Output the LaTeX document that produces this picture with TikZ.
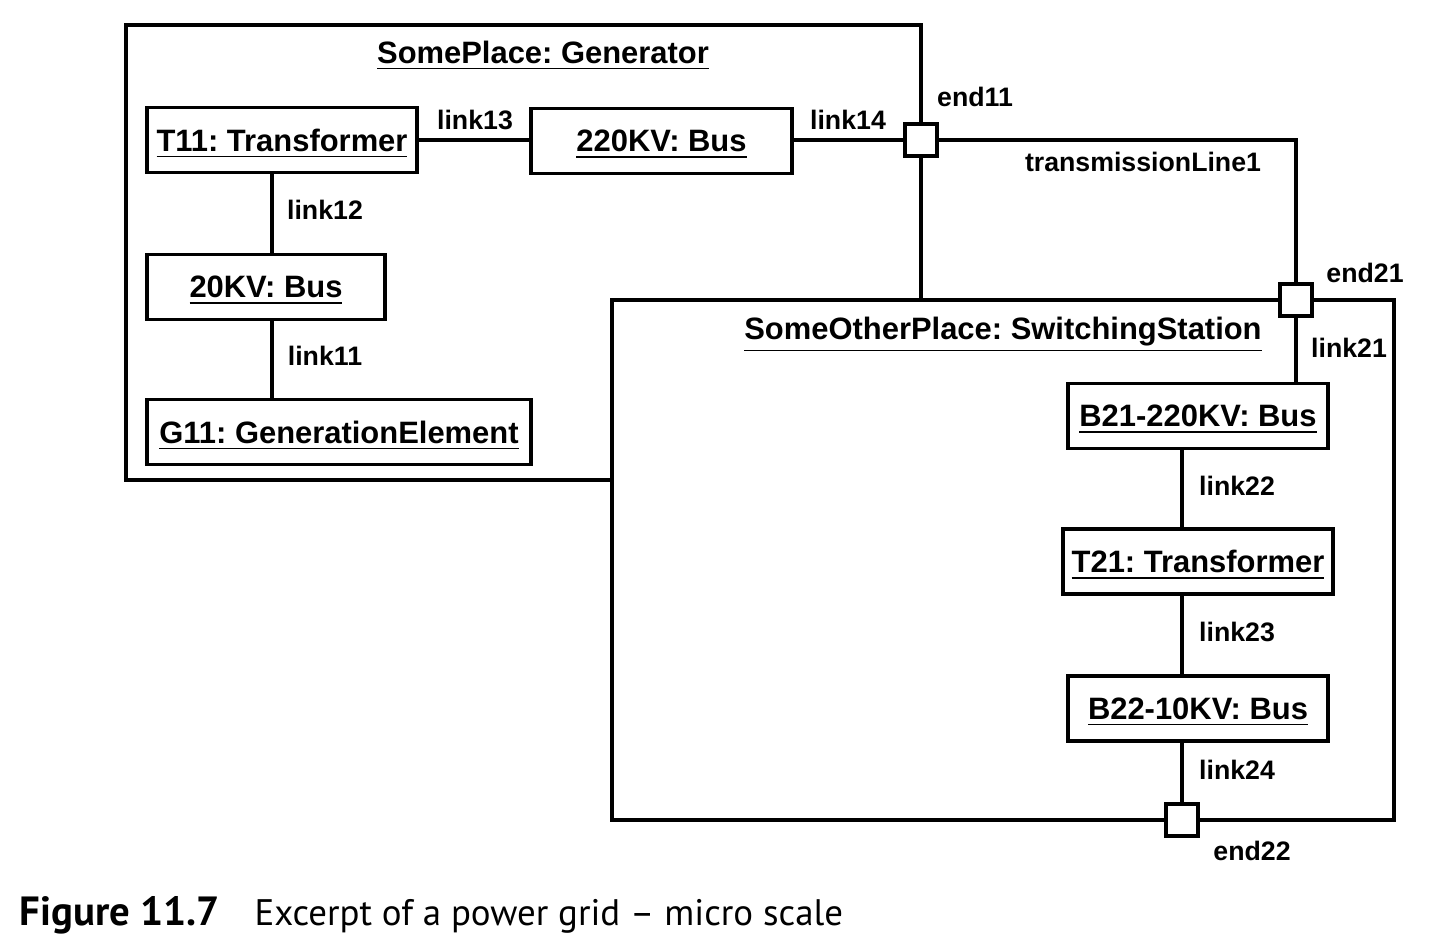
\documentclass[tikz,border=0pt]{standalone}
\usepackage{fontspec}
\setsansfont{Liberation Sans}
\newfontfamily\capfont{PT Sans}
\usetikzlibrary{positioning,calc}
\newcommand\objfont{\fontsize{8.8}{10}\selectfont\sffamily\bfseries}
\newcommand\lblfont{\fontsize{7.6}{9}\selectfont\sffamily\bfseries}
\frenchspacing

\begin{document}
\begin{tikzpicture}[line width=0.9pt,
		place/.style={draw,fill=white,inner sep=0},
		title/.style={font=\objfont,inner sep=0,text depth=0pt},
		obj/.style={draw,fill=white,inner sep=0,minimum height=0.65cm,text depth=0pt,font=\objfont},
		port/.style={draw,fill=white,inner sep=0,minimum size=0.32cm},
		lbl/.style={font=\lblfont,inner sep=0}]
		\useasboundingbox (0,0) rectangle (14.52,-9.46);

		% the two places
		\node[place,minimum width=7.95cm,minimum height=4.55cm] (gen) at (5.235,-2.525) {};
		\node[title] (gentitle) at (5.43,-0.52) {\underline{SomePlace: Generator}};
		\node[place,minimum width=7.82cm,minimum height=5.20cm] (sta) at (10.03,-5.60) {};
		\node[title] (statitle) at (10.03,-3.28) {\underline{SomeOtherPlace: SwitchingStation}};

		% objects
		\node[obj,minimum width=2.70cm] (t11)    at (2.82,-1.40)   {\underline{T11: Transformer}};
		\node[obj,minimum width=2.61cm] (bus220) at (6.615,-1.41)  {\underline{220KV: Bus}};
		\node[obj,minimum width=2.38cm] (bus20)  at (2.66,-2.87)   {\underline{20KV: Bus}};
		\node[obj,minimum width=3.84cm] (g11)    at (3.39,-4.32)   {\underline{G11: GenerationElement}};
		\node[obj,minimum width=2.60cm] (b21)    at (11.98,-4.16)  {\underline{B21-220KV: Bus}};
		\node[obj,minimum width=2.70cm] (t21)    at (11.98,-5.615) {\underline{T21: Transformer}};
		\node[obj,minimum width=2.60cm] (b22)    at (11.98,-7.085) {\underline{B22-10KV: Bus}};

		% ports
		\node[port] (end11) at (9.21,-1.40) {};
		\node[port] (end21) at (12.96,-3.00) {};
		\node[port] (end22) at (11.82,-8.20) {};

		% links
		\coordinate (v1) at (2.72,0);
		\coordinate (v2) at (11.82,0);
		\draw (t11.east |- end11) -- (bus220.west |- end11);
		\draw (bus220.east |- end11) -- (end11);
		\draw (end11) -| (end21);
		\draw (end21) -- (end21 |- b21.north);
		\draw (v1 |- t11.south) -- (v1 |- bus20.north);
		\draw (v1 |- bus20.south) -- (v1 |- g11.north);
		\draw (v2 |- b21.south) -- (v2 |- t21.north);
		\draw (v2 |- t21.south) -- (v2 |- b22.north);
		\draw (v2 |- b22.south) -- (end22);

		% redraw ports on top
		\node[port] at (end11) {};
		\node[port] at (end21) {};
		\node[port] at (end22) {};

		% labels
		\node[lbl] (l13)   at (4.75,-1.20)  {link13};
		\node[lbl] (l14)   at (8.48,-1.20)  {link14};
		\node[lbl] (l12)   at (3.25,-2.10)  {link12};
		\node[lbl] (l11)   at (3.25,-3.56)  {link11};
		\node[lbl] (e11)   at (9.75,-0.97)  {end11};
		\node[lbl] (tl1)   at (11.43,-1.62) {transmissionLine1};
		\node[lbl] (e21)   at (13.65,-2.73) {end21};
		\node[lbl] (l21)   at (13.49,-3.48) {link21};
		\node[lbl] (l22)   at (12.37,-4.86) {link22};
		\node[lbl] (l23)   at (12.37,-6.32) {link23};
		\node[lbl] (l24)   at (12.37,-7.70) {link24};
		\node[lbl] (e22)   at (12.52,-8.51) {end22};

		% caption
		\node[anchor=base west,inner sep=0,font=\capfont\fontsize{11.6}{13}\selectfont\bfseries] (capnum) at (0.18,-9.25) {Figure 11.7};
		\node[anchor=base west,inner sep=0,font=\capfont\fontsize{10.5}{12}\selectfont] (cap) at (2.53,-9.25)
			{Excerpt of a power grid – micro scale};
\end{tikzpicture}
\end{document}
